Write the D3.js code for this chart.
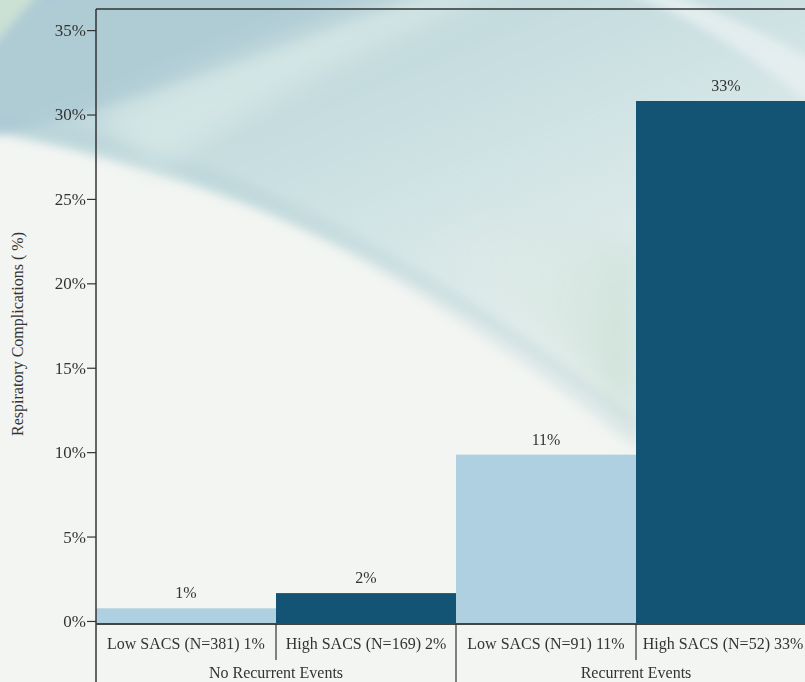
<!DOCTYPE html>
<meta charset="utf-8">
<style>
body { margin: 0; background: #f2f5f2; }
svg { display: block; font-family: "Liberation Serif", "Times New Roman", serif; }
.axis path, .axis line { stroke: #333; stroke-width: 1.2; fill: none; }
.axis text { font-size: 17px; fill: #333; font-family: "Liberation Serif", "Times New Roman", serif; }
</style>
<head>
<script src="https://d3js.org/d3.v7.min.js"></script>
</head>
<body>
<script>

// data
var groups = ["No Recurrent Events", "Recurrent Events"];
var categories = ["Low SACS (N=381) 1%", "High SACS (N=169) 2%", "Low SACS (N=91) 11%", "High SACS (N=52) 33%"];
var groupOf = [0, 0, 1, 1];
var values = [0.75, 1.65, 9.85, 30.8];
var valueLabels = ["1%", "2%", "11%", "33%"];
var colors = ["#aed0e0", "#135474", "#aed0e0", "#135474"];
var yTicks = [0, 5, 10, 15, 20, 25, 30, 35];

var W = 805, H = 682;
var plotLeft = 96, plotTop = 9, base = 624, plotRight = 816;

var svg = d3.select("body").append("svg")
    .attr("width", W)
    .attr("height", H);

// background swooshes
var defs = svg.append("defs");
defs.append("filter").attr("id", "soft")
    .append("feGaussianBlur").attr("stdDeviation", 5);
defs.append("filter").attr("id", "softer")
    .append("feGaussianBlur").attr("stdDeviation", 14);

var g1 = defs.append("linearGradient").attr("id", "teal")
    .attr("x1", 0).attr("y1", 0).attr("x2", 0.6).attr("y2", 1);
g1.append("stop").attr("offset", "0%").attr("stop-color", "#b4d0d8");
g1.append("stop").attr("offset", "40%").attr("stop-color", "#c9dfe1");
g1.append("stop").attr("offset", "100%").attr("stop-color", "#e3eeeb").attr("stop-opacity", 0.4);

var g2 = defs.append("linearGradient").attr("id", "green")
    .attr("x1", 0).attr("y1", 0).attr("x2", 1).attr("y2", 0.3);
g2.append("stop").attr("offset", "0%").attr("stop-color", "#f3f6f2").attr("stop-opacity", 0);
g2.append("stop").attr("offset", "100%").attr("stop-color", "#c6ddd2").attr("stop-opacity", 0.9);

svg.append("rect").attr("width", W).attr("height", H).attr("fill", "#f2f5f2");

var bg = svg.append("g").attr("filter", "url(#soft)");
bg.append("path")
    .attr("d", "M-20,-20 L830,-20 L830,560 C760,520 690,470 620,420 C480,320 300,190 -20,130 Z")
    .attr("fill", "url(#teal)");
bg.append("path")
    .attr("d", "M-20,-20 L470,-20 C340,30 200,80 80,115 L-20,140 Z")
    .attr("fill", "#adcad3").attr("opacity", 0.85);
bg.append("path")
    .attr("d", "M0,128 C120,140 230,190 340,250 C430,300 520,360 640,450 L640,420 C540,340 440,280 340,225 C230,170 120,130 0,118 Z")
    .attr("fill", "#a6c3cb").attr("opacity", 0.22);
bg.append("path")
    .attr("d", "M-20,-20 L50,-20 L-20,60 Z")
    .attr("fill", "#cfe3d4").attr("opacity", 0.9);
bg.append("path")
    .attr("d", "M620,-10 C700,20 760,60 830,120 L830,70 C770,35 710,8 660,-10 Z")
    .attr("fill", "#e8f0f1").attr("opacity", 0.8);

var bg2 = svg.append("g").attr("filter", "url(#softer)");
bg2.append("path")
    .attr("d", "M96,120 C200,70 320,25 450,-20 L520,-20 C380,40 260,100 160,170 Z")
    .attr("fill", "#dae9e7").attr("opacity", 0.7);
bg2.append("path")
    .attr("d", "M420,240 C520,300 590,360 640,440 L640,250 C560,230 490,225 420,240 Z")
    .attr("fill", "url(#green)").attr("opacity", 0.7);

// scales
var x = d3.scaleBand()
    .domain(categories)
    .range([plotLeft, plotRight])
    .padding(0);

var y = d3.scaleLinear()
    .domain([-0.18, 36.25])
    .range([base, plotTop]);

// bars
svg.selectAll("rect.bar")
    .data(values)
    .enter().append("rect")
    .attr("class", "bar")
    .attr("x", function(d, i) { return x(categories[i]); })
    .attr("width", x.bandwidth())
    .attr("y", function(d) { return y(d); })
    .attr("height", function(d) { return y(-0.18) - y(d); })
    .attr("fill", function(d, i) { return colors[i]; });

// value labels
svg.selectAll("text.val")
    .data(values)
    .enter().append("text")
    .attr("class", "val")
    .attr("x", function(d, i) { return x(categories[i]) + x.bandwidth() / 2; })
    .attr("y", function(d) { return y(d) - 10; })
    .attr("text-anchor", "middle")
    .attr("font-size", "16px")
    .attr("fill", "#333")
    .text(function(d, i) { return valueLabels[i]; });

// y axis
var yAxis = svg.append("g")
    .attr("class", "axis")
    .attr("transform", "translate(" + plotLeft + ",0)")
    .call(d3.axisLeft(y).tickValues(yTicks).tickSize(9).tickPadding(1)
        .tickFormat(function(d) { return d + "%"; }));
yAxis.select(".domain").remove();
yAxis.attr("font-family", null).attr("font-size", null);

// frame lines
svg.append("line").attr("x1", plotLeft).attr("x2", W).attr("y1", plotTop).attr("y2", plotTop)
    .attr("stroke", "#333").attr("stroke-width", 1.5);
svg.append("line").attr("x1", plotLeft).attr("x2", plotLeft).attr("y1", plotTop).attr("y2", H)
    .attr("stroke", "#333").attr("stroke-width", 1.5);
svg.append("line").attr("x1", plotLeft).attr("x2", W).attr("y1", base).attr("y2", base)
    .attr("stroke", "#444").attr("stroke-width", 2);

// category separators and labels
categories.forEach(function(c, i) {
    var x0 = x(c);
    if (i > 0) {
        var full = groupOf[i] !== groupOf[i - 1];
        svg.append("line").attr("x1", x0).attr("x2", x0)
            .attr("y1", base).attr("y2", full ? H : 660)
            .attr("stroke", "#333").attr("stroke-width", 1.2);
    }
    svg.append("text")
        .attr("x", Math.min(x0 + x.bandwidth() / 2, W - 82))
        .attr("y", 649)
        .attr("text-anchor", "middle")
        .attr("font-size", "16px")
        .attr("fill", "#333")
        .text(c);
});

groups.forEach(function(gname, gi) {
    var cats = categories.filter(function(c, i) { return groupOf[i] === gi; });
    var x0 = x(cats[0]), x1 = x(cats[cats.length - 1]) + x.bandwidth();
    svg.append("text")
        .attr("x", (x0 + x1) / 2)
        .attr("y", 678)
        .attr("text-anchor", "middle")
        .attr("font-size", "16px")
        .attr("fill", "#333")
        .text(gname);
});

// y title
svg.append("text")
    .attr("transform", "translate(23,334) rotate(-90)")
    .attr("text-anchor", "middle")
    .attr("font-size", "16px")
    .attr("fill", "#333")
    .text("Respiratory Complications ( %)");

</script>
</body>
</html>
